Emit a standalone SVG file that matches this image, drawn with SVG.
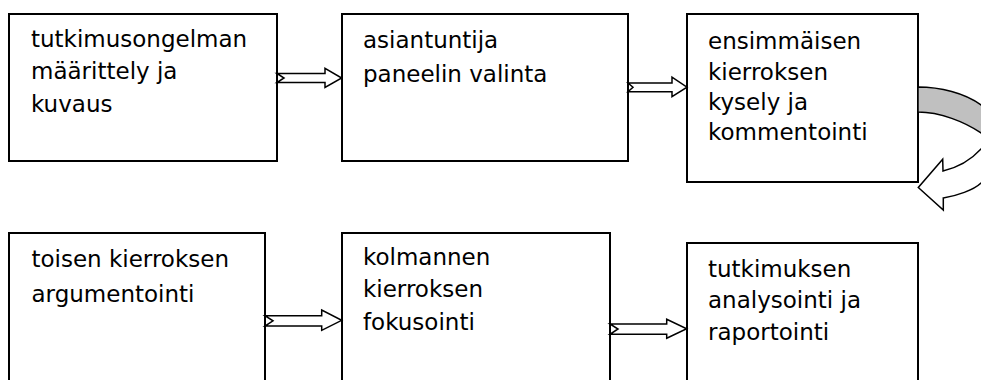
<svg xmlns="http://www.w3.org/2000/svg" width="981" height="380" viewBox="0 0 981 380">
<style>
.box{fill:#fff;stroke:#000;stroke-width:2}
.t{font-family:"DejaVu Sans","Liberation Sans",sans-serif;font-size:23px;fill:#000}
.arr{fill:#fff;stroke:#000;stroke-width:1.5;stroke-linejoin:miter}
.back{fill:#c0c0c0;stroke:#000;stroke-width:1.5}
</style>
<rect width="981" height="380" fill="#fff"/>
<g id="n1"><rect class="box" x="9" y="14" width="268" height="147"/>
<text class="t" x="31" y="46.7">tutkimusongelman</text>
<text class="t" x="31" y="79.3">määrittely ja</text>
<text class="t" x="31" y="111.7">kuvaus</text></g>
<g id="n2"><rect class="box" x="342" y="14" width="286" height="147"/>
<text class="t" x="363" y="48.3">asiantuntija</text>
<text class="t" x="363" y="81.5">paneelin valinta</text></g>
<g id="n3"><rect class="box" x="687" y="14" width="231" height="168"/>
<text class="t" x="708" y="48.5">ensimmäisen</text>
<text class="t" x="708" y="79.5">kierroksen</text>
<text class="t" x="708" y="109.5">kysely ja</text>
<text class="t" x="708" y="140">kommentointi</text></g>
<g id="n4"><rect class="box" x="9" y="233" width="256" height="170"/>
<text class="t" x="31.5" y="266.7">toisen kierroksen</text>
<text class="t" x="31.5" y="302">argumentointi</text></g>
<g id="n5"><rect class="box" x="342" y="233" width="268" height="170"/>
<text class="t" x="363" y="265">kolmannen</text>
<text class="t" x="363" y="297.3">kierroksen</text>
<text class="t" x="363" y="330">fokusointi</text></g>
<g id="n6"><rect class="box" x="687" y="243" width="231" height="160"/>
<text class="t" x="708" y="276.7">tutkimuksen</text>
<text class="t" x="708" y="308.3">analysointi ja</text>
<text class="t" x="708" y="340">raportointi</text></g>
<g id="connectors">
<path class="arr" d="M277,73.5 L325,73.5 L325,68.3 L341.7,78 L325,87.5 L325,82.5 L277,82.5 L284,78 Z"/>
<path class="arr" d="M628,83 L672,83 L672,77.2 L687,87.2 L672,96.7 L672,91.7 L628,91.7 L633,87.3 Z"/>
<path class="arr" d="M265,315.7 L321.7,315.7 L321.7,310 L341.7,320.3 L321.7,330.3 L321.7,326 L265,326 L273,320.8 Z"/>
<path class="arr" d="M610,324 L666.7,324 L666.7,319.3 L686.7,328.7 L666.7,338.3 L666.7,334.3 L610,334.3 L618,329 Z"/>
<path class="back" d="M918,87 C940,87 965,93 981,105 L996,118 L996,146 L981,133 C965,122 940,112 918,112 Z"/>
<path class="arr" d="M943,171 L942.7,159.3 L918.3,187.5 L943.3,210 L943.3,198 C956,196 974,190 981,183 L994,169 L994,136 L981,149 C972,159 958,167.5 943,171 Z"/>
</g>
</svg>
